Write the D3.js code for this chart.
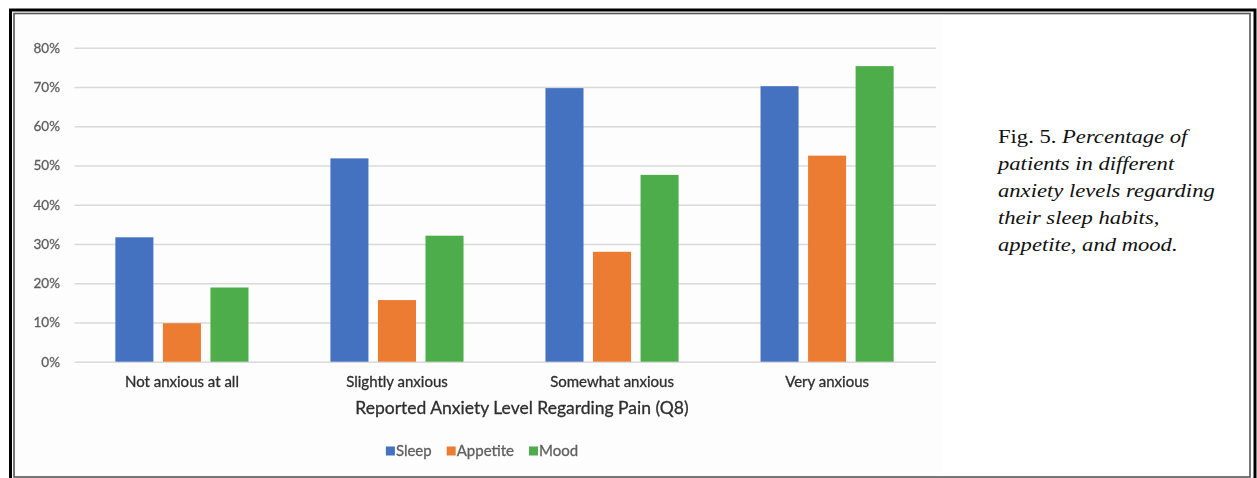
<!DOCTYPE html>
<html>
<head>
<meta charset="utf-8">
<script src="https://cdn.jsdelivr.net/npm/d3@7"></script>
<style>
  html, body { margin: 0; padding: 0; background: #fff; }
  svg { display: block; }
</style>
</head>
<body>
<svg id="fig" width="1257" height="478"></svg>
<script>
// Anxiety level categories on the x axis
const categories = ["Not anxious at all", "Slightly anxious", "Somewhat anxious", "Very anxious"];
// Series names and their percentages (as fractions)
const seriesNames = ["Sleep", "Appetite", "Mood"];
const sleep = [0.317, 0.518, 0.697, 0.702];
const appetite = [0.098, 0.157, 0.280, 0.525];
const mood = [0.189, 0.321, 0.476, 0.753];
const yTicks = [0, 0.1, 0.2, 0.3, 0.4, 0.5, 0.6, 0.7, 0.8];
const colors = ["#4471C1", "#EC7C30", "#4DAD4B"];
const xTitle = "Reported Anxiety Level Regarding Pain (Q8)";
const captionLines = [
  [{t: "Fig. 5. ", i: false}, {t: "Percentage of", i: true}],
  [{t: "patients in different", i: true}],
  [{t: "anxiety levels regarding", i: true}],
  [{t: "their sleep habits,", i: true}],
  [{t: "appetite, and mood.", i: true}]
];

const seriesValues = [sleep, appetite, mood];
const rows = categories.map((c, i) => ({
  category: c,
  values: seriesNames.map((s, k) => ({ series: s, value: seriesValues[k][i], k }))
}));

const sans = "Lato, 'Open Sans', sans-serif";
const svg = d3.select("#fig");

// soft look of the embedded chart image
const defs = svg.append("defs");
defs.append("filter").attr("id", "soft")
  .append("feGaussianBlur").attr("stdDeviation", 0.45);

// chart panel background
svg.append("rect").attr("x", 15).attr("y", 15).attr("width", 928).attr("height", 461)
  .attr("fill", "#fdfdfd");

const chart = svg.append("g").attr("filter", "url(#soft)");

const plot = { left: 74.5, right: 934.5, top: 47.7, bottom: 361.7 };

const y = d3.scaleLinear().domain([0, 0.8]).range([plot.bottom, plot.top]);
const x0 = d3.scaleBand().domain(categories).range([plot.left, plot.right])
  .paddingInner(0.381).paddingOuter(0.19);
const x1 = d3.scaleBand().domain(seriesNames).range([0, x0.bandwidth()])
  .paddingInner(0.2).paddingOuter(0);

function textStyle(sel, size, color) {
  sel.attr("fill", color).attr("stroke", color).attr("stroke-width", 0.3)
    .style("font-family", sans).style("font-size", size + "px");
}

// gridlines + tick labels
const yAxis = d3.axisLeft(y).tickValues(yTicks)
  .tickFormat(d3.format(".0%"))
  .tickSize(-(plot.right + 1.5 - plot.left)).tickPadding(14.5);
const gy = chart.append("g").attr("transform", `translate(${plot.left},0)`).call(yAxis);
gy.select(".domain").remove();
gy.selectAll(".tick line").attr("stroke", "#dadada").attr("stroke-width", 1.6);
gy.selectAll(".tick text").call(textStyle, 13.5, "#5e5e5e");

// bars
const groups = chart.append("g").selectAll("g").data(rows).join("g")
  .attr("transform", d => `translate(${x0(d.category)},0)`);
groups.selectAll("rect").data(d => d.values).join("rect")
  .attr("x", d => x1(d.series))
  .attr("width", x1.bandwidth())
  .attr("y", d => y(d.value))
  .attr("height", d => y(0) - y(d.value))
  .attr("fill", d => colors[d.k]);

// category labels
const xAxis = d3.axisBottom(x0).tickSize(0).tickPadding(15);
const gx = chart.append("g").attr("transform", `translate(0,${plot.bottom})`).call(xAxis);
gx.select(".domain").remove();
gx.selectAll(".tick text").call(textStyle, 15, "#2e2e2e");

// axis title
chart.append("text").attr("x", 522).attr("y", 414).attr("text-anchor", "middle")
  .call(textStyle, 17.5, "#2e2e2e")
  .text(xTitle);

// legend
const legend = chart.append("g").attr("transform", "translate(0,451)");
const items = legend.selectAll("g").data(seriesNames).join("g");
items.append("rect").attr("width", 9).attr("height", 9).attr("y", -4.5)
  .attr("fill", (d, i) => colors[i]);
items.append("text").attr("x", 10).attr("y", 5)
  .call(textStyle, 15, "#5e5e5e")
  .text(d => d);
let lx = 0;
const offsets = [];
items.each(function () {
  offsets.push(lx);
  const w = 10 + d3.select(this).select("text").node().getComputedTextLength();
  lx += w + 15;
});
const legendWidth = lx - 15;
const legendStart = 482 - legendWidth / 2;
items.attr("transform", (d, i) => `translate(${legendStart + offsets[i]},0)`);

// caption, set in a wide serif
const capX = 998;
const cap = svg.append("text")
  .attr("transform", `translate(${capX},143) scale(1.19,1)`)
  .style("font-family", "'Liberation Serif', 'DejaVu Serif', serif")
  .style("font-size", "19px").attr("fill", "#111");
captionLines.forEach((line, li) => {
  line.forEach((seg, si) => {
    const ts = cap.append("tspan").text(seg.t)
      .style("font-style", seg.i ? "italic" : "normal");
    if (si === 0) ts.attr("x", 0).attr("dy", li === 0 ? 0 : 27);
  });
});

// double frame
svg.append("rect").attr("x", 10.5).attr("y", 10).attr("width", 1244.5).attr("height", 490)
  .attr("fill", "none").attr("stroke", "#000").attr("stroke-width", 3);
svg.append("rect").attr("x", 14).attr("y", 13.5).attr("width", 1236).attr("height", 463.5)
  .attr("fill", "none").attr("stroke", "#555").attr("stroke-width", 1.6);
</script>
</body>
</html>
